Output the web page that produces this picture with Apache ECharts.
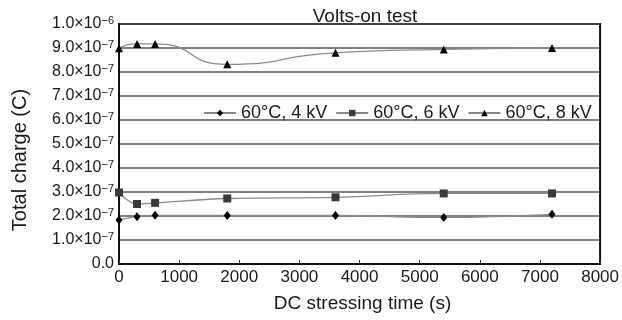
<!DOCTYPE html>
<html>
<head>
<meta charset="utf-8">
<script src="https://cdn.jsdelivr.net/npm/echarts@6/dist/echarts.min.js"></script>
<style>
  html, body { margin: 0; padding: 0; background: #fff; }
  #chart { width: 622px; height: 320px; }
</style>
</head>
<body>
<div id="chart"></div>
<script>
// stressing times (s)
let times = [0, 300, 600, 1800, 3600, 5400, 7200];
// total charge (C)
let charge4kV = [1.83e-7, 1.97e-7, 2.03e-7, 2.02e-7, 2.02e-7, 1.94e-7, 2.07e-7];
let charge6kV = [2.98e-7, 2.50e-7, 2.55e-7, 2.73e-7, 2.78e-7, 2.94e-7, 2.94e-7];
let charge8kV = [8.99e-7, 9.17e-7, 9.17e-7, 8.32e-7, 8.80e-7, 8.94e-7, 9.00e-7];
let seriesNames = ["60°C, 4 kV", "60°C, 6 kV", "60°C, 8 kV"];

function pairs(xs, ys) {
    return xs.map((x, i) => [x, ys[i]]);
}

function yLabel(v) {
    if (v < 1e-9) return "{n|0.0}";
    if (v > 9.95e-7) return "{n|1.0×10}{s|−6}";
    return "{n|" + (v * 1e7).toFixed(1) + "×10}{s|−7}";
}

let chartDom = document.getElementById("chart");
let myChart = echarts.init(chartDom);

let lineColor = "#8a8a8a";
let font = "Liberation Sans, Arial, sans-serif";

let option = {
    animation: false,
    textStyle: {fontFamily: font, color: "#1a1a1a"},
    title: {
        text: "Volts-on test",
        left: 360,
        top: 2,
        textAlign: "center",
        textStyle: {fontFamily: font, fontSize: 19, fontWeight: "normal", color: "#1a1a1a"}
    },
    legend: {
        data: seriesNames,
        left: 198,
        top: 99,
        itemWidth: 32,
        itemHeight: 8,
        itemGap: 8,
        textStyle: {fontFamily: font, fontSize: 18, color: "#1a1a1a"}
    },
    grid: {
        left: 119,
        right: 17,
        top: 24,
        bottom: 56,
        show: true,
        borderColor: "#111",
        borderWidth: 2,
        containLabel: false
    },
    xAxis: {
        type: "value",
        min: 0,
        max: 8000,
        interval: 1000,
        name: "DC stressing time (s)",
        nameLocation: "middle",
        nameGap: 30,
        nameTextStyle: {fontFamily: font, fontSize: 19, color: "#1a1a1a", padding: [0, 0, 0, 6]},
        axisLine: {show: true, lineStyle: {color: "#111", width: 2}},
        axisTick: {show: true, inside: true, length: 4, lineStyle: {color: "#333", width: 1}},
        axisLabel: {
            fontFamily: font, fontSize: 17, color: "#1a1a1a", margin: 5,
            formatter: (v) => String(v)
        },
        splitLine: {show: false}
    },
    yAxis: {
        type: "value",
        min: 0,
        max: 1e-6,
        interval: 1e-7,
        name: "Total charge (C)",
        nameLocation: "middle",
        nameGap: 89,
        nameTextStyle: {fontFamily: font, fontSize: 20, color: "#1a1a1a", padding: [0, 32, 0, 0]},
        axisLine: {show: true, lineStyle: {color: "#111", width: 2}},
        axisTick: {show: false},
        axisLabel: {
            margin: 5,
            formatter: yLabel,
            rich: {
                n: {fontFamily: font, fontSize: 16, color: "#1a1a1a", lineHeight: 17},
                s: {fontFamily: font, fontSize: 11, color: "#1a1a1a", lineHeight: 17, verticalAlign: "top"}
            }
        },
        splitLine: {show: true, lineStyle: {color: "#555", width: 1.5}}
    },
    series: [
        {
            name: seriesNames[0],
            type: "line",
            smooth: 0.4,
            data: pairs(times, charge4kV),
            symbol: "diamond",
            symbolSize: [7, 9],
            itemStyle: {color: "#000"},
            lineStyle: {color: lineColor, width: 1.3}
        },
        {
            name: seriesNames[1],
            type: "line",
            smooth: 0.4,
            data: pairs(times, charge6kV),
            symbol: "rect",
            symbolSize: 8,
            itemStyle: {color: "#3a3a3a"},
            lineStyle: {color: lineColor, width: 1.3}
        },
        {
            name: seriesNames[2],
            type: "line",
            smooth: 0.6,
            data: pairs(times, charge8kV),
            symbol: "triangle",
            symbolSize: 8,
            itemStyle: {color: "#000"},
            lineStyle: {color: lineColor, width: 1.3}
        }
    ]
};
myChart.setOption(option);
</script>
</body>
</html>
